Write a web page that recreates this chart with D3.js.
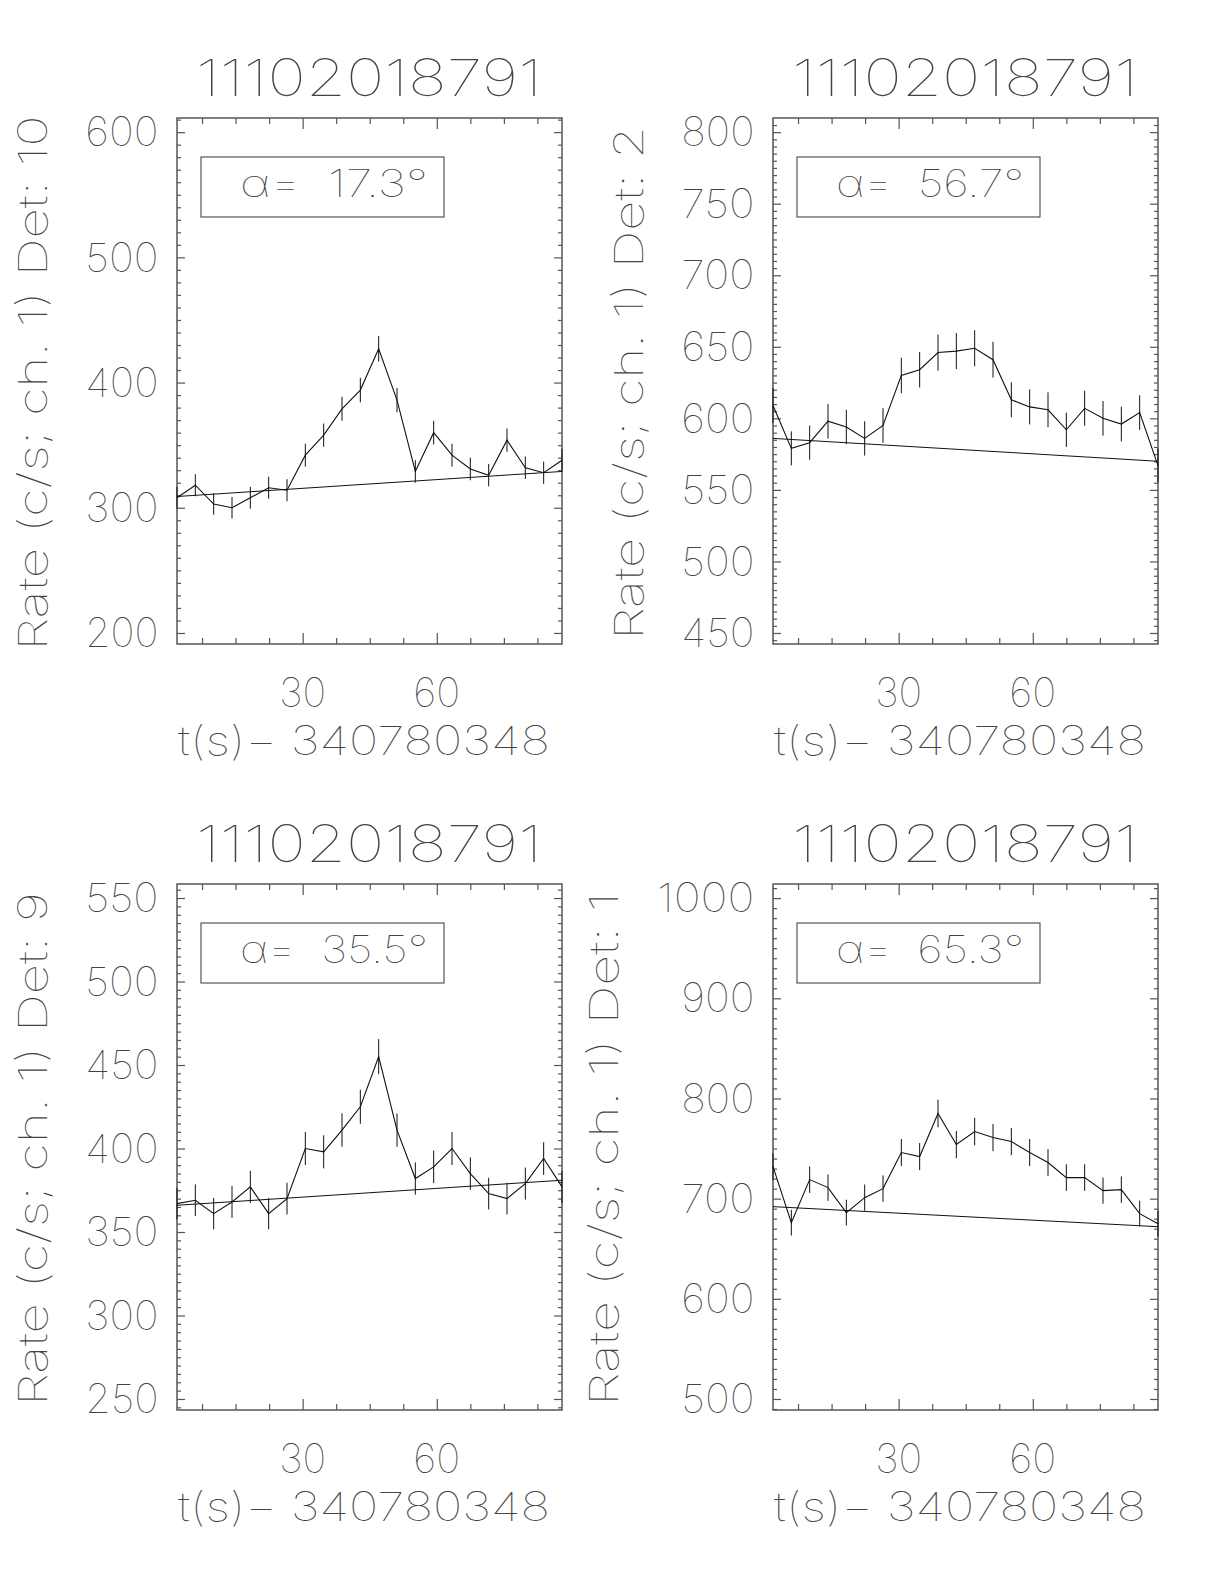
<!DOCTYPE html>
<html>
<head>
<meta charset="utf-8">
<script src="https://cdn.jsdelivr.net/npm/d3@7"></script>
<style>
  body { margin: 0; background: #fff; }
  text { font-family: Inter, Roboto, "Open Sans", sans-serif; font-weight: 100; fill: #444; white-space: pre; }
</style>
</head>
<body>
<svg id="chart" width="1224" height="1584"></svg>
<script>
// observation / time reference
const obsId = "11102018791";
const tZero = "340780348";

// bin times (s after tZero)
const tSec = [1.9, 6.0, 10.1, 14.2, 18.3, 22.4, 26.5, 30.6, 34.7, 38.8, 42.9,
              47.0, 51.1, 55.2, 59.3, 63.4, 67.5, 71.6, 75.7, 79.8, 83.9, 88.0];
const xTickLabels = [30, 60];
const xMinorStep = 7.5;

// detector 10
const rateDet10 = [308, 318, 303, 300, 308, 316, 314, 342, 358, 379, 394, 427, 386, 329, 360, 342, 331, 326, 354, 332, 328, 338];
const errDet10  = [8.7, 8.8, 8.6, 8.6, 8.7, 8.8, 8.8, 9.1, 9.3, 9.6, 9.8, 10.2, 9.7, 9.0, 9.4, 9.1, 9.0, 8.9, 9.3, 9.0, 8.9, 9.1];
const fitDet10  = [309, 329];
const yTicksDet10 = [200, 300, 400, 500, 600];

// detector 2
const rateDet2 = [609, 579, 583, 598, 594, 586, 595, 630, 634, 646, 647, 649, 641, 613, 608, 606, 592, 607, 600, 596, 604, 567];
const errDet2  = [12.2, 11.9, 11.9, 12.1, 12.0, 12.0, 12.1, 12.4, 12.4, 12.6, 12.6, 12.6, 12.5, 12.2, 12.2, 12.2, 12.0, 12.2, 12.1, 12.1, 12.1, 11.8];
const fitDet2  = [586, 570];
const yTicksDet2 = [450, 500, 550, 600, 650, 700, 750, 800];

// detector 9
const rateDet9 = [367, 369, 361, 368, 377, 361, 370, 400, 398, 411, 425, 455, 411, 382, 389, 400, 385, 373, 370, 379, 394, 377];
const errDet9  = [9.5, 9.5, 9.4, 9.5, 9.6, 9.4, 9.5, 9.9, 9.9, 10.0, 10.2, 10.5, 10.0, 9.7, 9.7, 9.9, 9.7, 9.5, 9.5, 9.6, 9.8, 9.6];
const fitDet9  = [366, 381];
const yTicksDet9 = [250, 300, 350, 400, 450, 500, 550];

// detector 1
const rateDet1 = [732, 676, 719, 711, 686, 701, 710, 746, 742, 785, 754, 767, 761, 757, 746, 736, 721, 721, 708, 709, 685, 675];
const errDet1  = [13.4, 12.8, 13.2, 13.2, 12.9, 13.1, 13.2, 13.5, 13.5, 13.8, 13.6, 13.7, 13.6, 13.6, 13.5, 13.4, 13.3, 13.3, 13.1, 13.2, 12.9, 12.8];
const fitDet1  = [692, 672];
const yTicksDet1 = [500, 600, 700, 800, 900, 1000];

const detectors = [10, 2, 9, 1];
const alphaDeg = ["17.3", "56.7", "35.5", "65.3"];
const yRanges = [[191.2, 611.3], [442.3, 809.9], [243.4, 558.4], [489, 1014.1]];
const yMinorSteps = [10, 5, 5, 10];

let panels = [
    {det: detectors[0], alpha: alphaDeg[0], rate: rateDet10, err: errDet10, fit: fitDet10, ticks: yTicksDet10, range: yRanges[0], minor: yMinorSteps[0], col: 0, row: 0},
    {det: detectors[1], alpha: alphaDeg[1], rate: rateDet2,  err: errDet2,  fit: fitDet2,  ticks: yTicksDet2,  range: yRanges[1], minor: yMinorSteps[1], col: 1, row: 0},
    {det: detectors[2], alpha: alphaDeg[2], rate: rateDet9,  err: errDet9,  fit: fitDet9,  ticks: yTicksDet9,  range: yRanges[2], minor: yMinorSteps[2], col: 0, row: 1},
    {det: detectors[3], alpha: alphaDeg[3], rate: rateDet1,  err: errDet1,  fit: fitDet1,  ticks: yTicksDet1,  range: yRanges[3], minor: yMinorSteps[3], col: 1, row: 1}
];

// layout
let frameLeft = [177, 773], frameTop = [118, 884];
let frameW = 385, frameH = 526;
let capH = 28.4;
let frameColor = "#555", inkColor = "#111";

let svg = d3.select("#chart");

panels.forEach(function (p) {
    let x0 = frameLeft[p.col], y0 = frameTop[p.row];
    let g = svg.append("g").attr("transform", "translate(" + x0 + "," + y0 + ")");

    let x = d3.scaleLinear().domain([tSec[0], tSec[tSec.length - 1]]).range([0, frameW]);
    let y = d3.scaleLinear().domain(p.range).range([frameH, 0]);

    // ticks, all pointing inwards
    let xMinor = d3.range(xMinorStep, tSec[tSec.length - 1], xMinorStep).filter(v => xTickLabels.indexOf(v) < 0);
    let yAll = d3.range(Math.ceil(p.range[0] / p.minor) * p.minor, p.range[1], p.minor);
    let yMinor = yAll.filter(v => p.ticks.indexOf(v) < 0);

    function addAxis(axis, tx, ty) {
        let a = g.append("g").attr("class", "axis")
            .attr("transform", "translate(" + tx + "," + ty + ")")
            .call(axis.tickFormat("").tickSizeOuter(0));
        a.select(".domain").remove();
        a.selectAll("line").attr("stroke", frameColor).attr("stroke-width", 1.2);
    }
    addAxis(d3.axisBottom(x).tickValues(xMinor).tickSizeInner(-6), 0, frameH);
    addAxis(d3.axisBottom(x).tickValues(xTickLabels).tickSizeInner(-11), 0, frameH);
    addAxis(d3.axisTop(x).tickValues(xMinor).tickSizeInner(-6), 0, 0);
    addAxis(d3.axisTop(x).tickValues(xTickLabels).tickSizeInner(-11), 0, 0);
    addAxis(d3.axisLeft(y).tickValues(yMinor).tickSizeInner(-4), 0, 0);
    addAxis(d3.axisLeft(y).tickValues(p.ticks).tickSizeInner(-8), 0, 0);
    addAxis(d3.axisRight(y).tickValues(yMinor).tickSizeInner(-4), frameW, 0);
    addAxis(d3.axisRight(y).tickValues(p.ticks).tickSizeInner(-8), frameW, 0);

    g.append("rect")
        .attr("width", frameW).attr("height", frameH)
        .attr("fill", "none").attr("stroke", frameColor).attr("stroke-width", 1.5);

    // y tick labels
    g.selectAll(".ylab").data(p.ticks).enter().append("text")
        .attr("class", "ylab")
        .attr("x", -18.5)
        .attr("y", d => y(d) + capH / 2)
        .attr("text-anchor", "end")
        .attr("font-size", 40)
        .attr("textLength", d => 24.4 * String(d).length)
        .attr("lengthAdjust", "spacingAndGlyphs")
        .text(d => d);

    // x tick labels
    g.selectAll(".xlab").data(xTickLabels).enter().append("text")
        .attr("class", "xlab")
        .attr("x", d => x(d))
        .attr("y", frameH + 63)
        .attr("text-anchor", "middle")
        .attr("font-size", 40)
        .attr("textLength", 47)
        .attr("lengthAdjust", "spacingAndGlyphs")
        .text(d => d);

    // titles
    g.append("text")
        .attr("x", 192).attr("y", -22)
        .attr("text-anchor", "middle")
        .attr("font-size", 51)
        .attr("textLength", 346).attr("lengthAdjust", "spacingAndGlyphs")
        .text(obsId);

    g.append("text")
        .attr("x", 187).attr("y", frameH + 111)
        .attr("text-anchor", "middle")
        .attr("font-size", 40)
        .attr("textLength", 372).attr("lengthAdjust", "spacingAndGlyphs")
        .text("t(s)\u2212 " + tZero);

    let yTitle = "Rate (c/s; ch. 1) Det: " + p.det;
    let labelW = d3.max(p.ticks, d => String(d).length);
    g.append("text")
        .attr("transform", "translate(" + (-130 - (labelW - 3) * 25) + "," + (frameH / 2 + 2) + ") rotate(-90)")
        .attr("text-anchor", "middle")
        .attr("font-size", 40)
        .attr("textLength", 21.4 * yTitle.length).attr("lengthAdjust", "spacingAndGlyphs")
        .text(yTitle);

    // alpha box
    g.append("rect")
        .attr("x", 24).attr("y", 39).attr("width", 243).attr("height", 60)
        .attr("fill", "none").attr("stroke", frameColor).attr("stroke-width", 1.2);
    g.append("text")
        .attr("x", 63).attr("y", 79)
        .attr("font-size", 38)
        .attr("textLength", 188).attr("lengthAdjust", "spacingAndGlyphs")
        .text("\u03b1=  " + p.alpha + "\u00b0");

    // fit line
    g.append("line")
        .attr("x1", x(tSec[0])).attr("y1", y(p.fit[0]))
        .attr("x2", x(tSec[tSec.length - 1])).attr("y2", y(p.fit[1]))
        .attr("stroke", inkColor).attr("stroke-width", 1);

    // error bars
    g.selectAll(".ebar").data(tSec).enter().append("line")
        .attr("class", "ebar")
        .attr("x1", d => x(d)).attr("x2", d => x(d))
        .attr("y1", (d, i) => y(p.rate[i] - p.err[i]))
        .attr("y2", (d, i) => y(p.rate[i] + p.err[i]))
        .attr("stroke", inkColor).attr("stroke-width", 1);

    // light curve
    let linefcn = d3.line()
        .x((d, i) => x(tSec[i]))
        .y(d => y(d));
    g.append("path")
        .attr("d", linefcn(p.rate))
        .attr("fill", "none")
        .attr("stroke", inkColor).attr("stroke-width", 1.1);
});
</script>
</body>
</html>
